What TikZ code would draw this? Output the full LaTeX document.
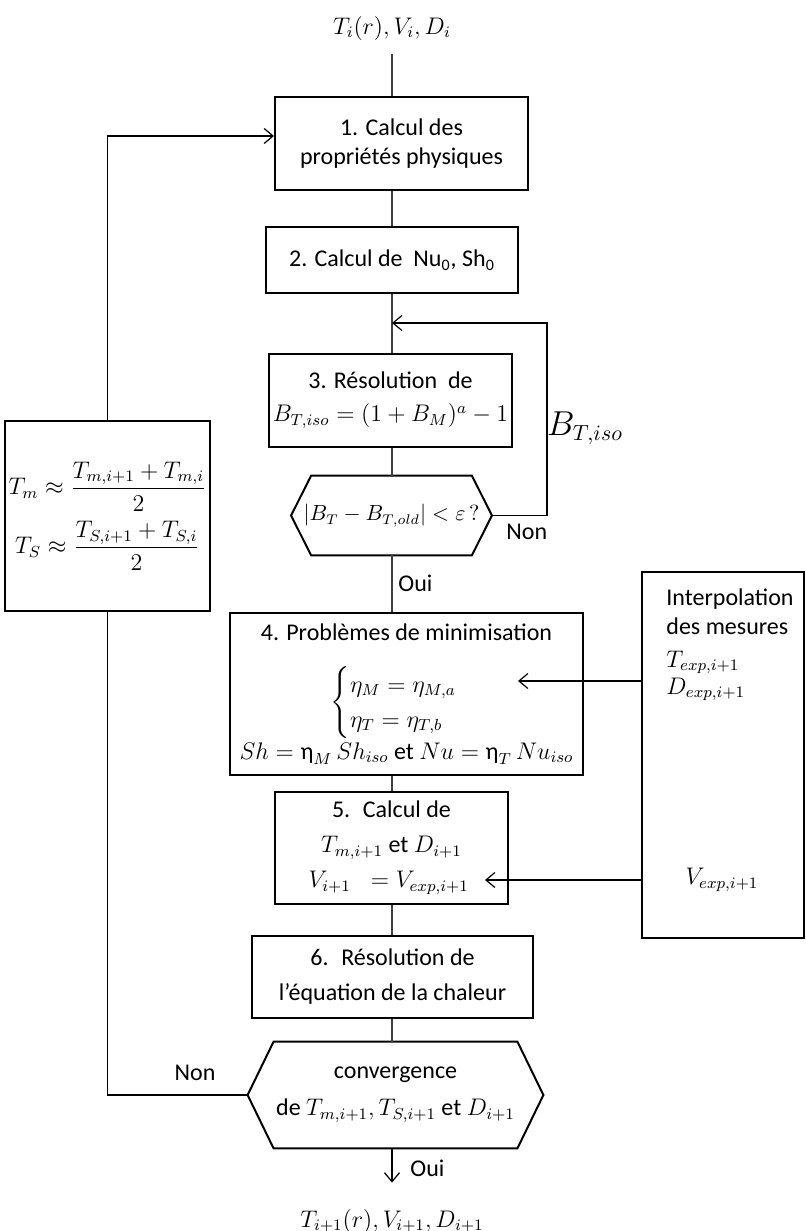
\documentclass[tikz,border=0pt]{standalone}
\usepackage{amsmath}
\usepackage{fontspec}
\setmainfont{Carlito}
\usetikzlibrary{arrows.meta, positioning, calc}
\tikzset{
  blk/.style={draw=black, line width=1pt, fill=white, align=center, inner sep=2pt},
  hexa/.style={align=center, inner sep=0pt},
  lbl/.style={inner sep=1pt},
  link/.style={draw=black!75, line width=0.6pt},
  arr/.style={draw=black, line width=0.6pt, -{Straight Barb[length=4.5pt, width=7.5pt, line width=0.6pt]}},
}
% hexagon drawn round a node, #2 = depth of the points
\newcommand{\hexframe}[2]{\draw[line width=1pt] (#1.west) -- ([xshift=#2]#1.north west) -- ([xshift=-#2]#1.north east) -- (#1.east) -- ([xshift=-#2]#1.south east) -- ([xshift=#2]#1.south west) -- cycle;}

\begin{document}
\begin{tikzpicture}[x=0.5pt, y=-0.5pt, font=\fontsize{12}{14.5}\selectfont]
\useasboundingbox (0,0) rectangle (806,1231);

% main column
\node[lbl] (start) at (392,28) {$T_i(r), V_i, D_i$};
\node[blk, minimum width=126.5pt, minimum height=46.5pt] (calc1) at (401.5,143.5) {1. Calcul des\\propriétés physiques};
\node[blk, minimum width=126pt, minimum height=33pt] (calc2) at (392,260) {2. Calcul de~ Nu\textsubscript{0}, Sh\textsubscript{0}};
\node[blk, minimum width=104.5pt, minimum height=46.5pt] (calc3) at (390.5,400.5) {3. Résolution~ de\\[2pt]$B_{T,iso} = (1+B_M)^a - 1$};
\node[hexa, minimum width=100pt, minimum height=39.5pt, font=\fontsize{10.5}{12.5}\selectfont] (test1) at (391.5,515.5) {$\lvert B_T - B_{T,old}\rvert < \varepsilon\,?$};
\hexframe{test1}{10pt}
\node[blk, minimum width=176.5pt, minimum height=81pt] (calc4) at (406.5,694) {4. Problèmes de minimisation\\[12pt]$\begin{cases}\eta_M = \eta_{M,a}\\ \eta_T = \eta_{T,b}\end{cases}$\\[1pt]$Sh = \text{η}_M\,Sh_{iso}$ et $Nu = \text{η}_T\,Nu_{iso}$};
\node[blk, minimum width=116.5pt, minimum height=56pt] (calc5) at (391.5,848) {5.~ Calcul de\\[3pt]$T_{m,i+1}$ et $D_{i+1}$\\[3pt]$V_{i+1}\;\;= V_{exp,i+1}$~~};
\node[blk, minimum width=140.5pt, minimum height=41pt] (calc6) at (392.5,977) {6.~ Résolution de\\[3pt]l’équation de la chaleur};
\node[hexa, minimum width=147.5pt, minimum height=53pt] (test2) at (395.5,1095) {convergence\\[4pt]de $T_{m,i+1}, T_{S,i+1}$ et $D_{i+1}$};
\hexframe{test2}{13pt}
\node[lbl] (stop) at (392,1221) {$T_{i+1}(r), V_{i+1}, D_{i+1}$};

% left: mean temperatures
\node[blk, minimum width=93.5pt, minimum height=95pt] (tmean) at (107.5,516) {$T_m \approx \dfrac{T_{m,i+1}+T_{m,i}}{2}$\\[4pt]$T_S \approx \dfrac{T_{S,i+1}+T_{S,i}}{2}$};

% right: measurements
\node[draw=black, line width=1pt, minimum width=81pt, minimum height=183pt] (interp) at (723,755) {};
\node[lbl, anchor=north west, align=left] (mesures) at (664,586) {Interpolation\\des mesures\\[2pt]$T_{exp,i+1}$\\[-1pt]$D_{exp,i+1}$};
\node[lbl] (vexp) at (722,880) {$V_{exp,i+1}$};
\coordinate (etain) at (518,681);
\coordinate (vin) at (485,880);

% links
\draw[link] ([yshift=-6pt]start.south) -- (start.south |- calc1.north);
\draw[link] (calc2.north |- calc1.south) -- (calc2.north);
\draw[link] (calc2.south) -- (calc2.south |- calc3.north);
\draw[link] (calc3.south -| calc2.south) -- (calc2.south |- test1.north);
\draw[link] (calc2.south |- test1.south) -- (calc2.south |- calc4.north);
\draw[link] (calc2.south |- calc4.south) -- (calc2.south |- calc5.north);
\draw[link] (calc2.south |- calc5.south) -- (calc2.south |- calc6.north);
\draw[link] (calc2.south |- calc6.south) -- (calc2.south |- test2.north);
\draw[arr] (calc2.south |- test2.south) -- ([yshift=12pt]stop.north -| calc2.south);

% inner loop on B_T,iso
\coordinate (bturn) at (547,323);
\draw[arr] (test1.east) -| (bturn) -- (bturn -| calc2.south);
\node[lbl, font=\fontsize{16}{19}\selectfont] (biso) at (585,428) {$B_{T,iso}$};
\node[lbl, anchor=north west] (non1) at (504,522) {Non};
\node[lbl, anchor=west] (oui1) at (396,583) {Oui};

% outer loop
\draw[link, draw=black] (test2.west) -| (tmean.south);
\draw[arr] (tmean.north) |- ([yshift=3.75pt]calc1.west);
\node[lbl] (non2) at (195,1073) {Non};
\node[lbl, anchor=west] (oui2) at (408,1168) {Oui};

% measured data
\draw[arr] (interp.west |- etain) -- (etain);
\draw[arr] (interp.west |- vin) -- (vin);
\end{tikzpicture}
\end{document}
